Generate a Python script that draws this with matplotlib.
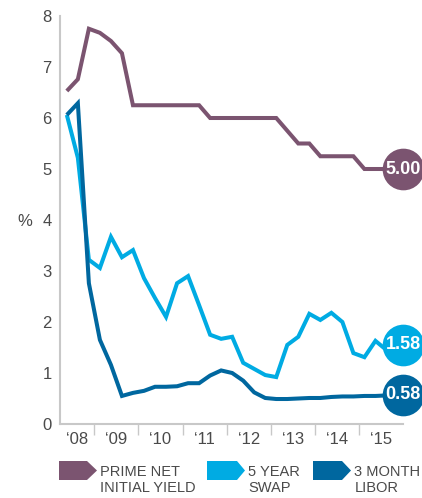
import numpy as np
import matplotlib
matplotlib.use("Agg")
import matplotlib.pyplot as plt
from matplotlib.patches import Polygon

# ---- data (quarterly, Q2 2008 .. Q4 2015) ----
quarters = np.arange(31)
prime_yield = [6.53, 6.76, 7.75, 7.67, 7.51, 7.27, 6.25, 6.25, 6.25, 6.25,
               6.25, 6.25, 6.25, 6.00, 6.00, 6.00, 6.00, 6.00, 6.00, 6.00,
               5.75, 5.50, 5.50, 5.25, 5.25, 5.25, 5.25, 5.00, 5.00, 5.00, 5.00]
swap_5y = [6.06, 5.22, 3.22, 3.06, 3.67, 3.27, 3.41, 2.86, 2.47, 2.10,
           2.76, 2.90, 2.33, 1.75, 1.67, 1.71, 1.20, 1.08, 0.96, 0.92,
           1.55, 1.71, 2.16, 2.04, 2.18, 2.00, 1.39, 1.31, 1.63, 1.45, 1.55]
libor_3m = [6.06, 6.29, 2.76, 1.65, 1.16, 0.55, 0.61, 0.65, 0.73, 0.73,
            0.74, 0.80, 0.80, 0.95, 1.05, 1.00, 0.85, 0.62, 0.51, 0.49,
            0.49, 0.50, 0.51, 0.51, 0.53, 0.54, 0.54, 0.55, 0.55, 0.56, 0.57]
end_labels = ["5.00", "1.58", "0.58"]
year_labels = ["\u201808", "\u201809", "\u201810", "\u201811",
               "\u201812", "\u201813", "\u201814", "\u201815"]
y_labels = ["0", "1", "2", "3", "4", "5", "6", "7", "8"]
series_names = ["PRIME NET\nINITIAL YIELD", "5 YEAR\nSWAP", "3 MONTH\nLIBOR"]

colors = ["#7b5470", "#00abe3", "#00679f"]
font = ["Liberation Sans", "DejaVu Sans"]
narrow = ["Liberation Sans Narrow", "Liberation Sans", "DejaVu Sans"]
gray = "#4a4a4a"

W, H = 422, 498
fig = plt.figure(figsize=(W / 100, H / 100), dpi=100)
x0, x1 = -0.62, 30.5
ax = fig.add_axes([60 / W, 1 - 424 / H, (403 - 60) / W, (424 - 16) / H])
ax.set_xlim(x0, x1)
ax.set_ylim(0, 8)

series = [prime_yield, swap_5y, libor_3m]
order = [0, 2, 1]
for k in order:
    ax.plot(quarters, series[k], color=colors[k], lw=2.9, solid_joinstyle="miter",
            solid_capstyle="butt", zorder=3 + k, clip_on=False)

# end circles
for k in range(3):
    ax.scatter([x1], [series[k][-1]], s=900, color=colors[k], zorder=10, clip_on=False,
               linewidths=0)
    ax.text(x1, series[k][-1], end_labels[k], color="white", fontsize=13, fontweight="bold",
            family=narrow, ha="center", va="center", zorder=11, clip_on=False)

# spines
for s in ["top", "right"]:
    ax.spines[s].set_visible(False)
for s in ["left", "bottom"]:
    ax.spines[s].set_color("#c8c8c8")
    ax.spines[s].set_linewidth(1.5)

ax.set_yticks(range(len(y_labels)))
ax.set_yticklabels(y_labels, family=font, fontsize=12, color=gray)
ax.tick_params(axis="y", length=0, pad=6)

bounds = [x0] + [2.5 + 4 * k for k in range(7)] + [x1]
centers = [(bounds[i] + bounds[i + 1]) / 2 for i in range(8)]
ax.set_xticks(centers)
ax.set_xticklabels(year_labels, family=font, fontsize=12, color=gray)
ax.tick_params(axis="x", which="major", length=0, pad=6)
ax.set_xticks(bounds[1:-1], minor=True)
ax.tick_params(axis="x", which="minor", length=8, width=1, color="#c8c8c8")

fig.text(25 / W, 1 - 222 / H, "%", family=font, fontsize=12, color=gray,
         ha="center", va="center")

# legend
legend_x = [(59, 87, 97), (207, 237, 245), (313, 342, 351)]
for k, (lx, rx, tx) in enumerate(legend_x):
    top, bot = 461, 480
    mid = (top + bot) / 2
    pts = [(lx, top), (rx, top), (tx, mid), (rx, bot), (lx, bot)]
    pts = [(px / W, 1 - py / H) for px, py in pts]
    fig.patches.append(Polygon(pts, closed=True, transform=fig.transFigure,
                               facecolor=colors[k], edgecolor="none"))
    fig.text((tx + 3.5) / W, 1 - 465 / H, series_names[k], family=font, fontsize=10.5,
             color=gray, ha="left", va="top", linespacing=1.2)

fig.savefig("out.png", dpi=100)
